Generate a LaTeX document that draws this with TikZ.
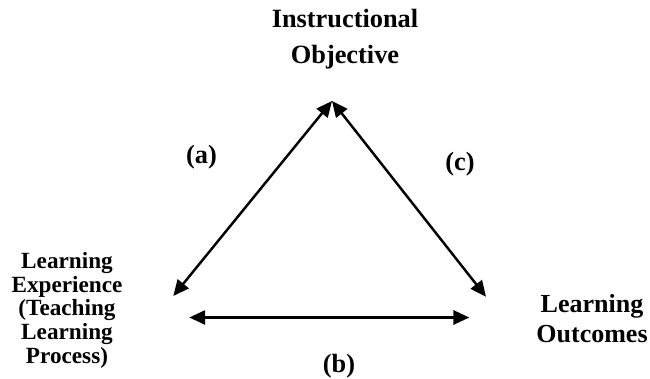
\documentclass[tikz,border=0pt]{standalone}
\usepackage{fontspec}
\setmainfont{Liberation Serif}
\usepackage{tikz}
\usetikzlibrary{arrows.meta, positioning}
\definecolor{mydark}{RGB}{0,0,0}
\tikzset{
  corner/.style={align=center, anchor=base, inner sep=0pt,
    font=\fontsize{15}{21}\selectfont\bfseries, text=mydark},
  sidelbl/.style={anchor=base, inner sep=0pt,
    font=\fontsize{15}{18}\selectfont\bfseries, text=mydark},
  arrow/.style={{Triangle[length=9pt, width=8pt]}-{Triangle[length=9pt, width=8pt]},
    line width=1.4pt, color=mydark}
}
\begin{document}
\begin{tikzpicture}
  \useasboundingbox (0,0) rectangle (13,7.56);

  % Corner labels (placed by their last baseline)
  \node[corner] (obj) at (6.9,6.28) {Instructional\\Objective};
  \node[corner, font=\fontsize{13.2}{13.4}\selectfont\bfseries] (exp) at (1.34,0.3)
    {Learning\\Experience\\(Teaching\\Learning\\Process)};
  \node[corner, font=\fontsize{14.8}{17}\selectfont\bfseries] (out) at (11.84,0.72)
    {Learning\\Outcomes};

  % Arrow ends
  \coordinate (apex) at (6.64,5.54);
  \coordinate (expA) at (3.466,1.64);
  \coordinate (outA) at (9.72,1.626);
  \coordinate (expB) at (3.786,1.21);
  \coordinate (outB) at (9.386,1.21);

  % Double arrows
  \draw[arrow] (expA) -- (apex);
  \draw[arrow] (apex) -- (outA);
  \draw[arrow] (expB) -- (outB);

  % Arrow labels
  \node[sidelbl] (la) at (4.03,4.30) {(a)};
  \node[sidelbl] (lb) at (6.78,0.12) {(b)};
  \node[sidelbl] (lc) at (9.2,4.16) {(c)};
\end{tikzpicture}
\end{document}
